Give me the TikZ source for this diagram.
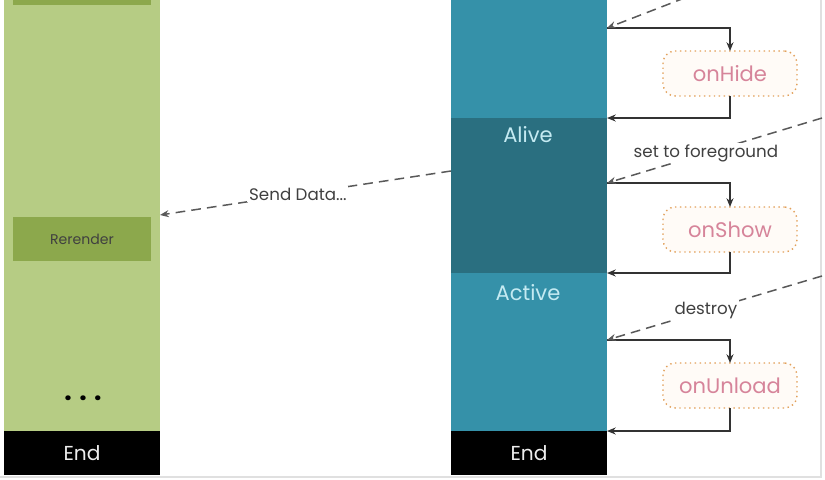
\documentclass[tikz,border=0pt]{standalone}
\usepackage{fontspec}
\setmainfont{Poppins}
\usetikzlibrary{arrows.meta}

\definecolor{leaf}{RGB}{182,204,132}
\definecolor{leafdark}{RGB}{140,168,76}
\definecolor{sea}{RGB}{53,145,169}
\definecolor{seadark}{RGB}{42,111,128}
\definecolor{seatext}{RGB}{196,234,242}
\definecolor{hookpink}{RGB}{214,132,154}
\definecolor{hookline}{RGB}{226,160,90}

\begin{document}
\begin{tikzpicture}[x=0.02cm,y=-0.02cm,
    every node/.style={inner sep=0pt,outer sep=0pt},
    col/.style={minimum width=3.12cm},
    endbox/.style={col,fill=black,minimum height=0.88cm,text=white!93!black,font=\fontsize{11.5}{13}\selectfont},
    inbox/.style={fill=leafdark,minimum width=2.76cm,font=\fontsize{8}{10}\selectfont,text=black!75},
    state/.style={text=seatext,font=\fontsize{12}{14}\selectfont},
    hook/.style={draw=hookline,dotted,line width=0.8pt,rounded corners=7pt,fill=orange!3,
      minimum width=2.68cm,minimum height=0.9cm,text=hookpink,font=\fontsize{12}{14}\selectfont},
    flow/.style={draw=black!80,line width=0.7pt,-{Stealth[length=5pt,width=4pt]}},
    hint/.style={draw=black!65,line width=0.85pt,dash pattern=on 5.5pt off 3.5pt,-{Stealth[length=5pt,width=4pt]}},
    lab/.style={fill=white,inner sep=1pt,text=black!75,font=\fontsize{9.5}{11}\selectfont}]
    \clip (0,0) rectangle (825,480);
    \fill[white] (0,0) rectangle (825,480);
    \draw[black!12,line width=1pt] (821,0) -- (821,477) -- (0,477);

    % left column
    \node[col,fill=leaf,minimum height=8.86cm] (page) at (82,210.5) {};
    \node[inbox,minimum height=0.8cm] (top) at (82,-15) {};
    \node[inbox,minimum height=0.88cm] (rerender) at (82,239) {Rerender};
    \node[font=\fontsize{15}{16}\selectfont\bfseries] (dots) at (83,398) {. . .};
    \node[endbox] (pageend) at (82,453) {End};

    % right column
    \node[col,fill=sea,minimum height=3.56cm] (show) at (529,29) {};
    \node[col,fill=seadark,minimum height=3.10cm] (alive) at (529,195.5) {};
    \node[col,fill=sea,minimum height=3.16cm] (active) at (529,352) {};
    \node[endbox] (append) at (529,453) {End};
    \node[state] (alivetxt) at (528,135) {Alive};
    \node[state] (activetxt) at (528,293) {Active};

    % hooks
    \node[hook] (onhide) at (730,73.5) {onHide};
    \node[hook] (onshow) at (730,229.5) {onShow};
    \node[hook] (onunload) at (730,385.5) {onUnload};

    \coordinate (in1) at (607,28);
    \coordinate (in2) at (607,183);
    \coordinate (in3) at (607,340);
    \coordinate (out1) at (700,-8);
    \coordinate (out2) at (822,118);
    \coordinate (out3) at (822,276);
    \coordinate (send) at (451,171);
    \coordinate (recv) at (160,215);

    \draw[flow] (in1) -| (onhide.north);
    \draw[flow] (onhide.south) |- (alive.north east);
    \draw[flow] (in2) -| (onshow.north);
    \draw[flow] (onshow.south) |- (active.north east);
    \draw[flow] (in3) -| (onunload.north);
    \draw[flow] (onunload.south) |- (append.north east);

    \draw[hint] (out1) -- (in1);
    \draw[hint] (out2) -- node[lab,pos=0.54] {set to foreground} (in2);
    \draw[hint] (out3) -- node[lab,pos=0.54] {destroy} (in3);
    \draw[hint] (send) -- node[lab,pos=0.526] {Send Data...} (recv);
\end{tikzpicture}
\end{document}
